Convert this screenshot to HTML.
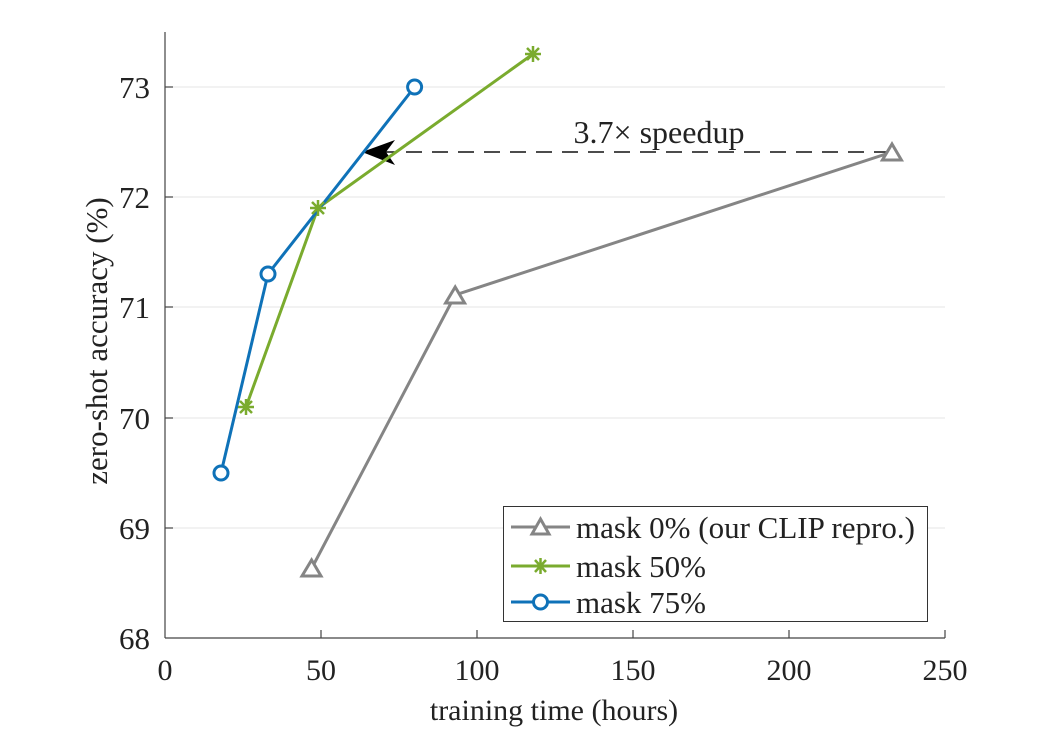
<!DOCTYPE html>
<html><head><style>body{margin:0;background:#fff}svg{display:block}text{font-family:"Liberation Serif",serif;fill:#222}</style></head>
<body>
<svg width="1042" height="734" viewBox="0 0 1042 734">
<g stroke="#e6e6e6" stroke-width="1">
<line x1="165" y1="528" x2="945" y2="528"/><line x1="165" y1="418" x2="945" y2="418"/>
<line x1="165" y1="307" x2="945" y2="307"/><line x1="165" y1="197" x2="945" y2="197"/>
<line x1="165" y1="87" x2="945" y2="87"/>
</g>
<g stroke="#444" stroke-width="1.2" fill="none">
<line x1="165" y1="32" x2="165" y2="638"/><line x1="165" y1="638" x2="945" y2="638"/>
<line x1="321" y1="638" x2="321" y2="630"/><line x1="477" y1="638" x2="477" y2="630"/>
<line x1="633" y1="638" x2="633" y2="630"/><line x1="789" y1="638" x2="789" y2="630"/>
<line x1="945" y1="638" x2="945" y2="630"/>
<line x1="165" y1="528" x2="173" y2="528"/><line x1="165" y1="418" x2="173" y2="418"/>
<line x1="165" y1="307" x2="173" y2="307"/><line x1="165" y1="197" x2="173" y2="197"/>
<line x1="165" y1="87" x2="173" y2="87"/>
</g>
<g font-size="30" text-anchor="middle">
<text x="165" y="680">0</text><text x="321" y="680">50</text><text x="477" y="680">100</text>
<text x="633" y="680">150</text><text x="789" y="680">200</text><text x="945" y="680">250</text>
</g>
<g font-size="31" text-anchor="end">
<text x="150" y="649">68</text><text x="150" y="539">69</text><text x="150" y="429">70</text>
<text x="150" y="318">71</text><text x="150" y="208">72</text><text x="150" y="98">73</text>
</g>
<text x="554" y="720" font-size="30" text-anchor="middle">training time (hours)</text>
<text transform="translate(107,341) rotate(-90)" font-size="31" text-anchor="middle">zero-shot accuracy (%)</text>
<line x1="380" y1="152" x2="890" y2="152" stroke="#111" stroke-width="1.6" stroke-dasharray="16,10"/>
<path d="M362 152 L395 140 L386 152 L395 165 Z" fill="#000"/>
<text x="659" y="143" font-size="32" text-anchor="middle">3.7× speedup</text>
<g fill="none" stroke-width="3">
<polyline points="311.6,568.5 455.2,295 892,152" stroke="#858585"/>
<polyline points="246,407 318,208 533,54" stroke="#7aab2e"/>
<polyline points="221,473 268,274 414.6,87" stroke="#0f72b8"/>
</g>
<g fill="#fff" stroke="#858585" stroke-width="3">
<path d="M311.6 560 L321 576 L302 576 Z"/><path d="M455.2 287 L464.6 303 L445.6 303 Z"/><path d="M892 144 L901.4 160 L882.4 160 Z"/>
</g>
<g stroke="#7aab2e" stroke-width="2.5">
<path d="M246 399v16M238 407h16M240 401l12 12M252 401l-12 12"/>
<path d="M318 200v16M310 208h16M312 202l12 12M324 202l-12 12"/>
<path d="M533 46v16M525 54h16M527 48l12 12M539 48l-12 12"/>
</g>
<g fill="#fff" stroke="#0f72b8" stroke-width="3">
<circle cx="221" cy="473" r="7"/><circle cx="268" cy="274" r="7"/><circle cx="414.6" cy="87" r="7"/>
</g>
<rect x="503.5" y="506.5" width="424" height="115" fill="#fff" stroke="#333" stroke-width="1"/>
<g stroke-width="3" fill="none">
<line x1="511" y1="527" x2="570" y2="527" stroke="#858585"/>
<line x1="511" y1="566" x2="570" y2="566" stroke="#7aab2e"/>
<line x1="511" y1="602" x2="570" y2="602" stroke="#0f72b8"/>
</g>
<path d="M540.5 519 L549 534 L532 534 Z" fill="#fff" stroke="#858585" stroke-width="3"/>
<path d="M540.5 558v16M532.5 566h16M535 560l11 12M546 560l-11 12" stroke="#7aab2e" stroke-width="2.5"/>
<circle cx="540.5" cy="602" r="7" fill="#fff" stroke="#0f72b8" stroke-width="3"/>
<g font-size="31">
<text x="576" y="538">mask 0% (our CLIP repro.)</text>
<text x="576" y="577">mask 50%</text>
<text x="576" y="613">mask 75%</text>
</g>
</svg>
</body></html>
